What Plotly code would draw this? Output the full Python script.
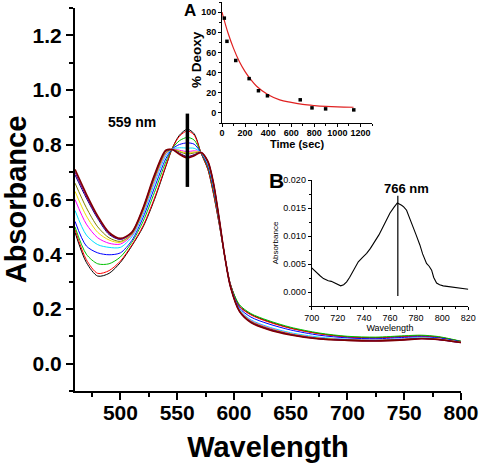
import plotly.graph_objects as go

# ---------------- main spectra ----------------
wavelength = [460, 470, 480, 490, 500, 510, 520, 530, 540, 546, 552, 559, 565, 571, 577,
              582, 587, 592, 597, 605, 615, 630, 650, 675, 700, 725, 750, 765, 780, 800]

abs_black = [.48, .37, .32, .33, .37, .43, .50, .60, .72, .79, .835, .857, .84, .77, .71,
             .62, .51, .39, .29, .21, .18, .155, .13, .11, .098, .095, .100, .102, .097, .081]
abs_red = [.49, .38, .33, .34, .375, .433, .504, .605, .724, .79, .831, .851, .835, .77, .712,
           .622, .511, .39, .289, .209, .178, .153, .129, .109, .097, .094, .099, .101, .097, .081]
abs_green = [.50, .40, .365, .365, .39, .443, .52, .626, .737, .788, .815, .827, .817, .771, .719,
             .632, .516, .39, .287, .215, .183, .158, .133, .112, .100, .097, .102, .104, .099, .082]
abs_blue = [.52, .43, .405, .398, .405, .45, .534, .643, .749, .786, .801, .807, .802, .771, .724,
            .639, .52, .39, .285, .203, .170, .146, .123, .104, .094, .091, .096, .098, .094, .080]
abs_cyan = [.56, .47, .435, .425, .425, .463, .546, .659, .76, .785, .789, .788, .787, .771, .73,
            .646, .523, .39, .283, .197, .160, .135, .113, .097, .089, .087, .091, .095, .091, .078]
abs_magenta = [.60, .51, .46, .44, .437, .469, .555, .67, .767, .784, .78, .775, .778, .772, .733,
               .651, .526, .39, .282, .194, .157, .132, .110, .094, .088, .086, .090, .093, .090, .078]
abs_yellow = [.63, .54, .48, .452, .443, .472, .558, .675, .77, .783, .777, .77, .774, .772, .735,
              .653, .527, .39, .282, .193, .155, .130, .109, .093, .087, .085, .089, .093, .090, .078]
abs_olive = [.66, .57, .50, .46, .447, .474, .561, .678, .772, .783, .774, .766, .77, .772, .736,
             .655, .527, .39, .281, .193, .154, .129, .108, .093, .087, .085, .089, .092, .089, .078]
abs_navy = [.69, .605, .53, .472, .454, .478, .567, .686, .777, .782, .769, .757, .764, .772, .739,
            .658, .529, .39, .28, .191, .152, .127, .106, .091, .086, .084, .088, .092, .088, .077]
abs_purple = [.70, .612, .535, .476, .455, .479, .568, .687, .778, .782, .767, .755, .762, .772, .739,
              .659, .529, .39, .28, .19, .151, .126, .106, .091, .085, .083, .087, .091, .088, .077]
abs_wine = [.71, .62, .54, .48, .458, .48, .57, .69, .78, .782, .765, .752, .76, .772, .74,
            .66, .53, .39, .28, .19, .15, .125, .105, .09, .085, .083, .087, .091, .088, .077]

spectra = [
    ("t0", abs_black, "#000000", 1),
    ("t1", abs_red, "#ff0000", 1),
    ("t2", abs_green, "#00c000", 1),
    ("t3", abs_blue, "#0000ff", 1),
    ("t4", abs_cyan, "#00e0ff", 1),
    ("t5", abs_magenta, "#ff00ff", 1),
    ("t6", abs_yellow, "#f0e000", 1),
    ("t7", abs_olive, "#808000", 1),
    ("t8", abs_navy, "#000080", 1),
    ("t9", abs_purple, "#800080", 1.2),
    ("t10", abs_wine, "#800000", 1.6),
]

main_yticks = [0.0, 0.2, 0.4, 0.6, 0.8, 1.0, 1.2]
main_xticks = [500, 550, 600, 650, 700, 750, 800]

# ---------------- inset A ----------------
time_pts = [20, 43, 119, 235, 316, 394, 678, 780, 898, 1142]
deoxy_pts = [94, 71, 52, 34, 22, 17, 13, 5, 4, 3]
fit_time = [0, 50, 100, 150, 200, 250, 300, 400, 500, 600, 700, 800, 900, 1000, 1140]
fit_deoxy = [100, 80, 64, 51, 41, 33, 26.5, 18, 13, 10.5, 8.5, 7.3, 6.5, 6, 5.6]

# ---------------- inset B ----------------
diff_wl = [700, 703, 706.4, 709, 712.7, 715, 717.8, 720, 722.2, 724.5, 726.8, 729, 731.9, 735.7,
           739, 742.1, 745, 748.5, 751.5, 754.8, 757.5, 760, 763, 765.6, 768.9, 770.5, 772.7,
           775, 777.8, 780, 782.9, 785, 788, 790, 791.9, 793.5, 795.7, 798, 800.8, 804, 808.4,
           812, 816, 820]
diff_abs = [0.0043, 0.0036, 0.0029, 0.0024, 0.0020, 0.0019, 0.0016, 0.0014, 0.0011, 0.0013,
            0.0018, 0.0026, 0.0039, 0.0054, 0.0062, 0.0069, 0.0078, 0.0090, 0.0102, 0.0117,
            0.0130, 0.0141, 0.0151, 0.0159, 0.0155, 0.0152, 0.0146, 0.0133, 0.0117, 0.0102,
            0.0084, 0.0068, 0.0051, 0.0046, 0.0039, 0.0026, 0.0016, 0.0013, 0.0011, 0.0010,
            0.0008, 0.0007, 0.0006, 0.0005]

FONT = "Liberation Sans Narrow, Arial Narrow, Liberation Sans, Arial"
FONT2 = "Liberation Sans, Arial"
W, H = 480, 468


def px(x):
    return x / W


def py(y):
    return 1 - y / H


fig = go.Figure()

for name, ys, col, w in spectra:
    fig.add_trace(go.Scatter(x=wavelength, y=ys, mode="lines", name=name,
                             line=dict(color=col, width=w, shape="spline", smoothing=0.8),
                             xaxis="x", yaxis="y", showlegend=False, hoverinfo="skip"))

fig.add_trace(go.Scatter(x=fit_time, y=fit_deoxy, mode="lines",
                         line=dict(color="#e02020", width=1.2, shape="spline"),
                         xaxis="x2", yaxis="y2", showlegend=False))
fig.add_trace(go.Scatter(x=time_pts, y=deoxy_pts, mode="markers",
                         marker=dict(color="black", size=3.5, symbol="square"),
                         xaxis="x2", yaxis="y2", showlegend=False))

fig.add_trace(go.Scatter(x=diff_wl, y=diff_abs, mode="lines",
                         line=dict(color="black", width=1.1),
                         xaxis="x3", yaxis="y3", showlegend=False))

# marker lines
fig.add_shape(type="line", xref="x", yref="y", x0=559, x1=559, y0=0.646, y1=0.914,
              line=dict(color="black", width=3.5))
fig.add_shape(type="line", xref="x3", yref="y3", x0=766, x1=766, y0=-0.0007, y1=0.0172,
              line=dict(color="black", width=1.2))

fig.add_annotation(x=510, y=0.885, xref="x", yref="y", text="<b>559 nm</b>", showarrow=False,
                   font=dict(family=FONT2, size=14, color="black"))
fig.add_annotation(x=773, y=0.0185, xref="x3", yref="y3", text="<b>766 nm</b>", showarrow=False,
                   font=dict(family=FONT2, size=13, color="black"))
fig.add_annotation(x=px(190), y=py(10), xref="paper", yref="paper", text="<b>A</b>",
                   xanchor="center", yanchor="middle",
                   showarrow=False, font=dict(family=FONT2, size=17, color="black"))
fig.add_annotation(x=px(276), y=py(181), xref="paper", yref="paper", text="<b>B</b>",
                   xanchor="center", yanchor="middle",
                   showarrow=False, font=dict(family=FONT2, size=21, color="black"))
fig.add_annotation(x=px(197), y=py(60), xref="paper", yref="paper", text="<b>% Deoxy</b>",
                   xanchor="center", yanchor="middle", textangle=-90,
                   showarrow=False, font=dict(family=FONT2, size=13.5, color="black"))

axis_common = dict(showline=True, linecolor="black", ticks="outside", showgrid=False,
                   zeroline=False, tickcolor="black", automargin=False)

fig.update_layout(
    width=W, height=H,
    margin=dict(l=0, r=0, t=0, b=0, autoexpand=False),
    paper_bgcolor="white", plot_bgcolor="rgba(0,0,0,0)",
    showlegend=False,
    xaxis=dict(domain=[px(75), px(461)], range=[460, 800], anchor="y",
               tickvals=main_xticks, linewidth=2, tickwidth=2, ticklen=7,
               ticklabelstandoff=-5,
               minor=dict(ticks="outside", dtick=25, tick0=475, ticklen=4, tickwidth=2,
                          tickcolor="black"),
               tickfont=dict(family=FONT, size=21, color="black", weight="bold"),
               title=dict(text="<b>Wavelength</b>", standoff=13,
                          font=dict(family=FONT2, size=29, color="black")),
               **axis_common),
    yaxis=dict(domain=[py(391), py(8)], range=[-0.1, 1.3], anchor="x",
               tickvals=main_yticks, tickformat=".1f", linewidth=2, tickwidth=2, ticklen=7,
               minor=dict(ticks="outside", dtick=0.1, tick0=0, ticklen=4, tickwidth=2,
                          tickcolor="black"),
               tickfont=dict(family=FONT, size=21, color="black", weight="bold"),
               title=dict(text="<b>Absorbance</b>", standoff=13,
                          font=dict(family=FONT2, size=29, color="black")),
               **axis_common),
    xaxis2=dict(domain=[px(222), px(372)], range=[0, 1300], anchor="y2",
                tickvals=[0, 200, 400, 600, 800, 1000, 1200], linewidth=1, tickwidth=1, ticklen=3,
                ticklabelstandoff=-2,
                minor=dict(ticks="outside", dtick=100, ticklen=2, tickcolor="black"),
                tickfont=dict(family=FONT, size=9, color="black", weight="bold"),
                title=dict(text="<b>Time (sec)</b>", standoff=2,
                           font=dict(family=FONT2, size=11, color="black")),
                **axis_common),
    yaxis2=dict(domain=[py(123), py(2)], range=[-10, 110], anchor="x2",
                tickvals=[0, 20, 40, 60, 80, 100], linewidth=1, tickwidth=1, ticklen=3,
                minor=dict(ticks="outside", dtick=10, ticklen=2, tickcolor="black"),
                tickfont=dict(family=FONT, size=9, color="black", weight="bold"),
                **axis_common),
    xaxis3=dict(domain=[px(311.7), px(468.3)], range=[700, 820], anchor="y3",
                tickvals=[700, 720, 740, 760, 780, 800, 820], linewidth=1, tickwidth=1, ticklen=3,
                minor=dict(ticks="outside", dtick=10, ticklen=2, tickcolor="black"),
                tickfont=dict(family=FONT, size=9, color="black"),
                title=dict(text="Wavelength", standoff=2,
                           font=dict(family=FONT, size=9, color="black")),
                **axis_common),
    yaxis3=dict(domain=[py(306), py(180)], range=[-0.0025, 0.020], anchor="x3",
                tickvals=[0, 0.005, 0.010, 0.015, 0.020], tickformat=".3f", linewidth=1,
                tickwidth=1, ticklen=3,
                minor=dict(ticks="outside", dtick=0.0025, ticklen=2, tickcolor="black"),
                tickfont=dict(family=FONT, size=9, color="black"),
                title=dict(text="Absorbance", standoff=3,
                           font=dict(family=FONT, size=8, color="black")),
                **axis_common),
)

fig.write_html("out.html", config={"displayModeBar": False},
               post_script="document.body.style.margin='0';document.body.style.padding='0';")
